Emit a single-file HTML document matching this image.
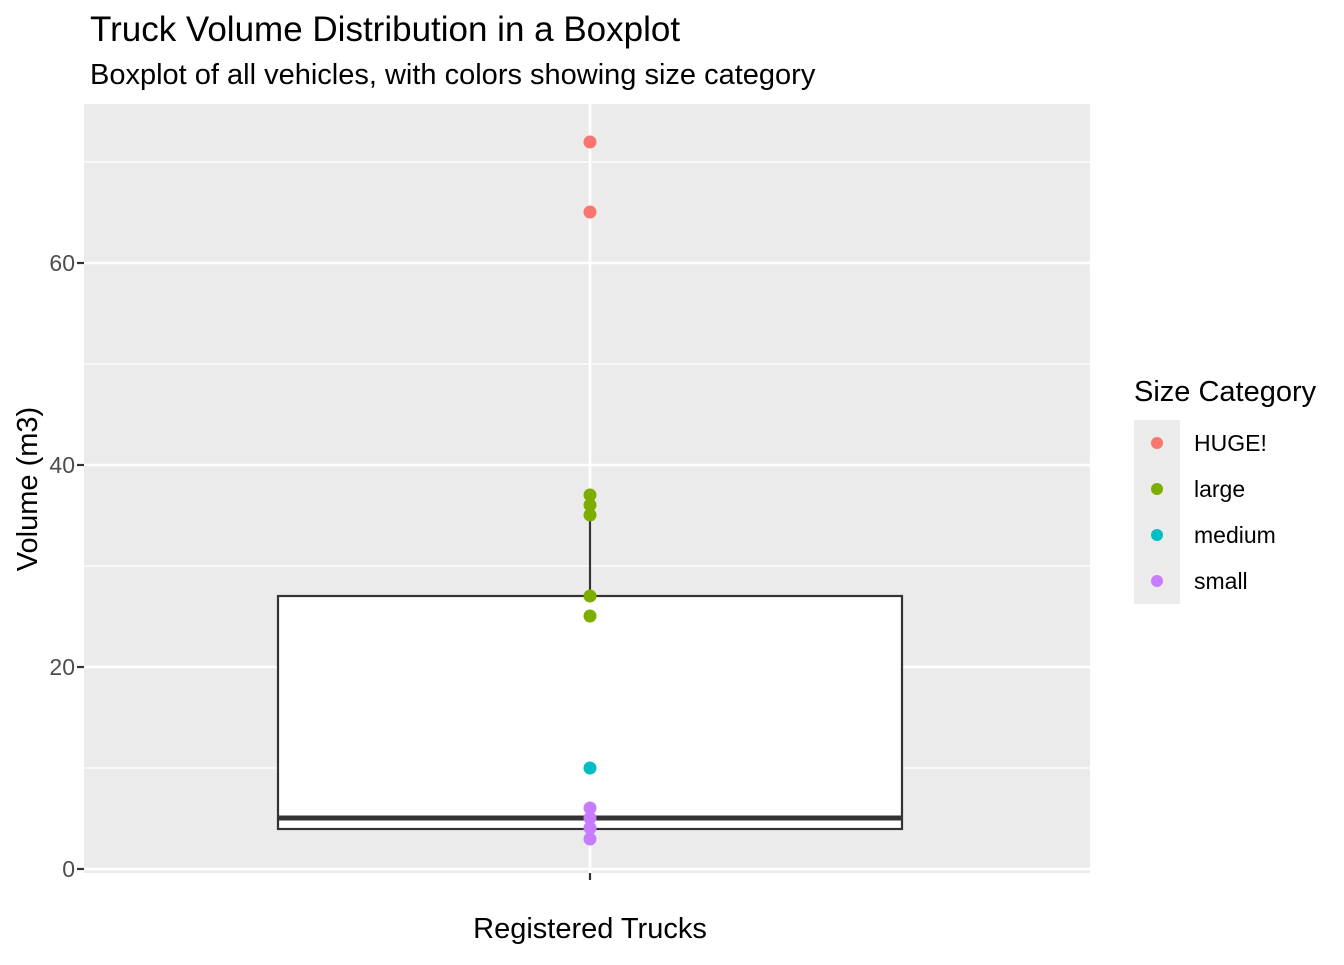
<!DOCTYPE html>
<html><head><meta charset="utf-8"><style>body{margin:0;background:#fff}</style></head><body>
<svg width="1344" height="960" xmlns="http://www.w3.org/2000/svg" font-family="Liberation Sans, sans-serif">
<rect width="1344" height="960" fill="#fff"/>
<rect x="84" y="104" width="1006" height="769" fill="#ebebeb"/>
<g stroke="#fff" stroke-width="1.3">
<line x1="84" x2="1090" y1="768" y2="768"/><line x1="84" x2="1090" y1="566" y2="566"/><line x1="84" x2="1090" y1="364" y2="364"/><line x1="84" x2="1090" y1="162" y2="162"/>
</g>
<g stroke="#fff" stroke-width="2.6">
<line x1="84" x2="1090" y1="869" y2="869"/><line x1="84" x2="1090" y1="667" y2="667"/><line x1="84" x2="1090" y1="465" y2="465"/><line x1="84" x2="1090" y1="263" y2="263"/>
<line x1="590" x2="590" y1="104" y2="873"/>
</g>
<line x1="590" x2="590" y1="596" y2="495" stroke="#333" stroke-width="2.2"/>
<rect x="278" y="596" width="624" height="233" fill="#fff" stroke="#333" stroke-width="2.2"/>
<line x1="278" x2="902" y1="818" y2="818" stroke="#333" stroke-width="5"/>
<g fill="#f8766d"><circle cx="590" cy="142" r="6.5"/><circle cx="590" cy="212" r="6.5"/></g>
<g fill="#7cae00"><circle cx="590" cy="495" r="6.5"/><circle cx="590" cy="505" r="6.5"/><circle cx="590" cy="515" r="6.5"/><circle cx="590" cy="596" r="6.5"/><circle cx="590" cy="616" r="6.5"/></g>
<g fill="#00bfc4"><circle cx="590" cy="768" r="6.5"/></g>
<g fill="#c77cff"><circle cx="590" cy="808" r="6.5"/><circle cx="590" cy="818" r="6.5"/><circle cx="590" cy="828" r="6.5"/><circle cx="590" cy="839" r="6.5"/></g>
<g stroke="#333" stroke-width="2.2"><line x1="77" x2="84" y1="869" y2="869"/><line x1="77" x2="84" y1="667" y2="667"/><line x1="77" x2="84" y1="465" y2="465"/><line x1="77" x2="84" y1="263" y2="263"/><line x1="590" x2="590" y1="873" y2="880"/></g>
<g font-size="23" fill="#4d4d4d" text-anchor="end"><text x="75" y="877">0</text><text x="75" y="675">20</text><text x="75" y="473">40</text><text x="75" y="271">60</text></g>
<text x="590" y="938" font-size="29" text-anchor="middle">Registered Trucks</text>
<text transform="translate(37,489) rotate(-90)" font-size="29" text-anchor="middle">Volume (m3)</text>
<text x="90" y="41" font-size="35">Truck Volume Distribution in a Boxplot</text>
<text x="90" y="84" font-size="29">Boxplot of all vehicles, with colors showing size category</text>
<text x="1134" y="401" font-size="29">Size Category</text>
<rect x="1134" y="420" width="46" height="184" fill="#ebebeb"/>
<circle cx="1157" cy="443" r="6" fill="#f8766d"/><circle cx="1157" cy="489" r="6" fill="#7cae00"/><circle cx="1157" cy="535" r="6" fill="#00bfc4"/><circle cx="1157" cy="581" r="6" fill="#c77cff"/>
<g font-size="23"><text x="1194" y="451">HUGE!</text><text x="1194" y="497">large</text><text x="1194" y="543">medium</text><text x="1194" y="589">small</text></g>
</svg>
</body></html>
